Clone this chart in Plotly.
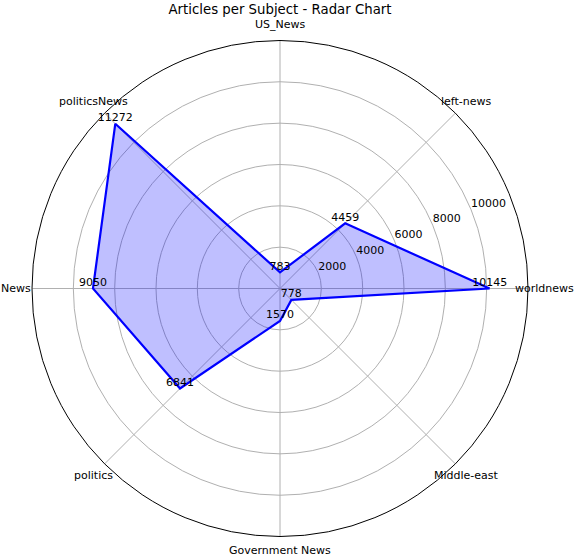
import math
import plotly.graph_objects as go

categories = ["worldnews", "left-news", "US_News", "politicsNews", "News",
              "politics", "Government News", "Middle-east"]
values = [10145, 4459, 783, 11272, 9050, 6841, 1570, 778]
angles = [0, 45, 90, 135, 180, 225, 270, 315]
radial_ticks = [2000, 4000, 6000, 8000, 10000]
r_max = 12000

W, H = 575, 558
cx, cy, R = 280, 288.5, 248
label_px = 264  # category labels centred just outside the outer circle

FONT = "DejaVu Sans"
TICK_SIZE = 11

fig = go.Figure()
fig.add_trace(go.Scatterpolar(
    r=values + [values[0]],
    theta=angles + [angles[0]],
    mode="lines",
    fill="toself",
    fillcolor="rgba(0,0,255,0.25)",
    line=dict(color="blue", width=2.2),
    hoverinfo="skip",
    showlegend=False,
))
# value labels
fig.add_trace(go.Scatterpolar(
    r=values,
    theta=angles,
    mode="text",
    text=[str(v) for v in values],
    textposition="top center",
    textfont=dict(family=FONT, size=TICK_SIZE, color="black"),
    hoverinfo="skip",
    showlegend=False,
))
# radial tick labels (horizontal, along the 22.5 degree line)
fig.add_trace(go.Scatterpolar(
    r=radial_ticks,
    theta=[22.5] * len(radial_ticks),
    mode="text",
    text=[str(t) for t in radial_ticks],
    textposition="top right",
    textfont=dict(family=FONT, size=TICK_SIZE, color="black"),
    hoverinfo="skip",
    showlegend=False,
))

annotations = []
for cat, a in zip(categories, angles):
    rad = math.radians(a)
    dist = label_px - (2 if a == 270 else 0)
    px = cx + dist * math.cos(rad)
    py = cy - dist * math.sin(rad)
    annotations.append(dict(
        text=cat, x=px / W, y=1 - py / H, xref="paper", yref="paper",
        xanchor="center", yanchor="middle", showarrow=False,
        font=dict(family=FONT, size=TICK_SIZE, color="black"),
    ))

fig.update_layout(
    width=W, height=H,
    margin=dict(l=0, r=0, t=0, b=0),
    paper_bgcolor="white",
    font=dict(family=FONT, size=TICK_SIZE, color="black"),
    title=dict(text="Articles per Subject - Radar Chart", x=cx / W, xanchor="center",
               y=1 - 9 / H, yanchor="middle",
               font=dict(family=FONT, size=13.3, color="black")),
    annotations=annotations,
    polar=dict(
        domain=dict(x=[(cx - R) / W, (cx + R) / W], y=[1 - (cy + R) / H, 1 - (cy - R) / H]),
        bgcolor="white",
        radialaxis=dict(
            range=[0, r_max],
            tickvals=radial_ticks,
            showticklabels=False,
            angle=22.5,
            showline=False,
            ticks="",
            gridcolor="#b0b0b0",
            gridwidth=0.9,
        ),
        angularaxis=dict(
            tickmode="array",
            tickvals=angles,
            ticktext=categories,
            showticklabels=False,
            direction="counterclockwise",
            rotation=0,
            showline=True,
            linecolor="black",
            linewidth=1,
            gridcolor="#b0b0b0",
            gridwidth=0.9,
            ticks="",
        ),
    ),
)

fig.write_html("out.html", config={"displayModeBar": False},
               post_script="document.body.style.margin='0';")
